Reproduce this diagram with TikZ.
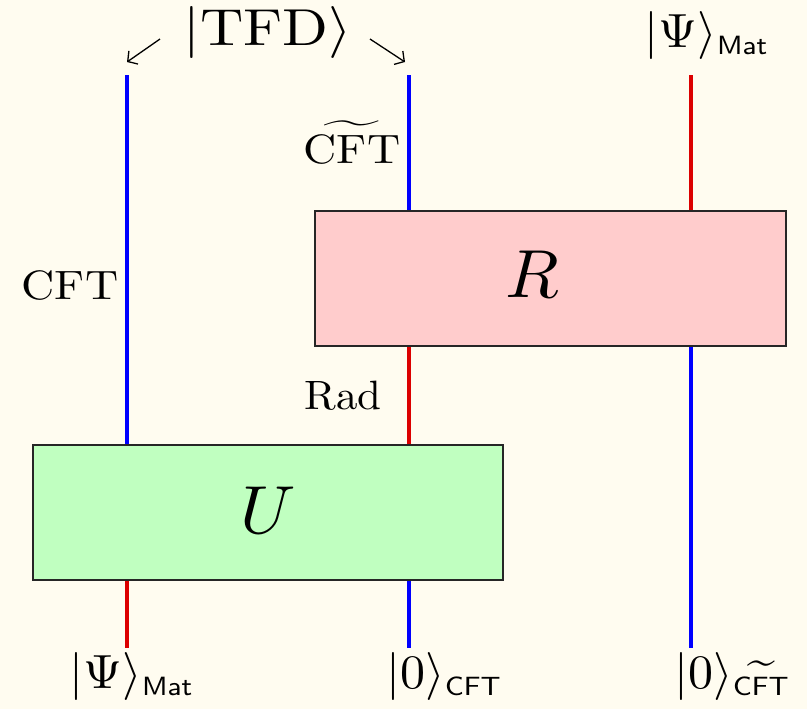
\RequirePackage{fix-cm}
\documentclass[tikz,border=0pt]{standalone}
\usepackage{graphicx}
\usetikzlibrary{arrows.meta}
\definecolor{bgc}{RGB}{255,252,240}
\definecolor{wblue}{RGB}{0,0,255}
\definecolor{wred}{RGB}{220,0,0}
\definecolor{rfill}{RGB}{255,204,204}
\definecolor{ufill}{RGB}{192,255,192}
\newcommand{\subsf}[1]{\mbox{\fontsize{5.5}{6}\selectfont\sffamily #1}}
\newcommand{\tsubcft}{\mbox{\ooalign{\subsf{CFT}\cr\hidewidth$\widetilde{\hbox to 7pt{\vphantom{\subsf{CFT}}\hfil}}$\hidewidth\cr}}}
\newcommand{\tcftlabel}{\ooalign{CFT\cr\hidewidth\scalebox{0.82}[1]{$\widetilde{\hbox to 15pt{\vphantom{CFT}\hfil}}$}\hidewidth\cr}}
\begin{document}
\begin{tikzpicture}[x=0.5pt,y=-0.5pt,
  bw/.style={wblue,line width=2pt},
  rw/.style={wred,line width=2pt},
  box/.style={draw=black!85,line width=1pt,minimum width=235pt,minimum height=67.5pt,inner sep=0pt},
  lbl/.style={inner sep=0pt,text=black},
  arr/.style={line width=0.65pt,-{Straight Barb[length=3.5pt,width=8pt]}}]
\fill[bgc] (0,0) rectangle (807,709);
\useasboundingbox (0,0) rectangle (807,709);
% wire end points
\coordinate (t1) at (127,75);
\coordinate (t2) at (409,75);
\coordinate (t3) at (691,75);
\coordinate (b1) at (127,648);
\coordinate (b2) at (409,648);
\coordinate (b3) at (691,648);
% boxes
\node[box,fill=rfill,minimum width=235.5pt] (R) at (550.5,278.5) {};
\node[box,fill=ufill] (U) at (268,512.5) {};
\node[lbl,anchor=base] (Rl) at (532,297) {\scalebox{3.5}[3.4]{$R$}};
\node[lbl,anchor=base] (Ul) at (268,533) {\scalebox{3.5}[3.4]{$U$}};
% wires
\draw[bw] (t1) -- (t1 |- U.north);
\draw[bw] (t2) -- (t2 |- R.north);
\draw[rw] (t3) -- (t3 |- R.north);
\draw[rw] (t2 |- R.south) -- (t2 |- U.north);
\draw[bw] (t3 |- R.south) -- (b3);
\draw[rw] (b1 |- U.south) -- (b1);
\draw[bw] (b2 |- U.south) -- (b2);
% top labels
\node[lbl,anchor=base] (tfd) at (268,45) {\scalebox{3.0}[2.6]{$|\mbox{TFD}\rangle$}};
\coordinate (a1s) at (160,39);
\coordinate (a1e) at (127,62);
\coordinate (a2s) at (370,39);
\coordinate (a2e) at (405,62);
\draw[arr] (a1s) -- (a1e);
\draw[arr] (a2s) -- (a2e);
\node[lbl,anchor=base west] (psitop) at (644.5,47) {\scalebox{2.5}[2.4]{$|\Psi\rangle_{\subsf{Mat}}$}};
% wire labels
\node[lbl,anchor=base] (cftt) at (352,163) {\scalebox{2.3}[2.05]{\tcftlabel}};
\node[lbl,anchor=base] (cft) at (70,299) {\scalebox{2.3}[2.05]{CFT}};
\node[lbl,anchor=base] (rad) at (343,409) {\scalebox{2.15}[2.05]{Rad}};
% bottom labels
\node[lbl,anchor=base west] (psib) at (69.5,688) {\scalebox{2.5}[2.4]{$|\Psi\rangle_{\subsf{Mat}}$}};
\node[lbl,anchor=base west] (zc) at (386.5,688) {\scalebox{2.5}[2.4]{$|0\rangle_{\subsf{CFT}}$}};
\node[lbl,anchor=base west] (zct) at (674.5,688) {\scalebox{2.5}[2.4]{$|0\rangle_{\tsubcft}$}};
\end{tikzpicture}
\end{document}
